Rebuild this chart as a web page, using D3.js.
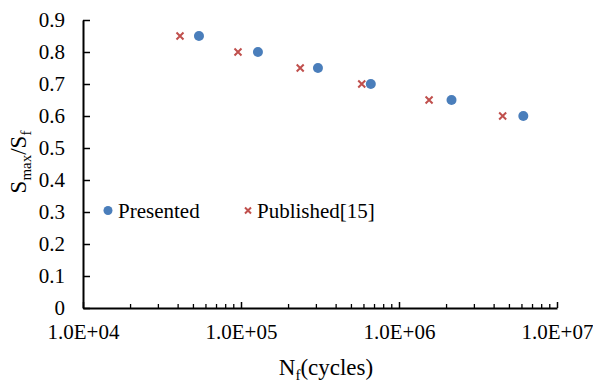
<!DOCTYPE html>
<html>
<head>
<meta charset="utf-8">
<script src="https://cdn.jsdelivr.net/npm/d3@7"></script>
<style>
	body { margin: 0; background: #fff; }
	text { font-family: 'Liberation Serif', 'Times New Roman', serif; fill: #000; }
</style>
</head>
<body>
<svg width="593" height="383"></svg>
<script>
// values
let presentedN = [54200, 128000, 307000, 663000, 2150000, 6120000]
let presentedS = [0.85, 0.8, 0.75, 0.7, 0.65, 0.6]
let publishedN = [41100, 95700, 237000, 581000, 1550000, 4530000]
let publishedS = [0.85, 0.8, 0.75, 0.7, 0.65, 0.6]
let yTicks = [0, 0.1, 0.2, 0.3, 0.4, 0.5, 0.6, 0.7, 0.8, 0.9]
let xTicks = [1e4, 1e5, 1e6, 1e7]

let presented = presentedN.map((n, i) => ({ n: n, s: presentedS[i] }))
let published = publishedN.map((n, i) => ({ n: n, s: publishedS[i] }))

let svg = d3.select('svg')

let xScale = d3.scaleLog()
	.domain([1e4, 1e7])
	.range([83, 557])

let yScale = d3.scaleLinear()
	.domain([0, 0.9])
	.range([308, 20])

// minor ticks on the log axis
let minor = []
for (let d = 1e4; d < 1e7; d *= 10) {
	for (let k = 2; k <= 9; k++) minor.push(d * k)
}

let bottomAxisG = svg.append('g')
	.attr('transform', 'translate(0, 308)')
bottomAxisG.selectAll('line.minor')
	.data(minor)
	.enter()
	.append('line')
	.attr('x1', d => xScale(d))
	.attr('x2', d => xScale(d))
	.attr('y1', 0)
	.attr('y2', -4)
	.attr('stroke', '#000')
	.attr('stroke-width', 1.3)
let bottomAxis = d3.axisBottom(xScale)
	.tickValues(xTicks)
	.tickSizeInner(-6)
	.tickSizeOuter(0)
	.tickPadding(16)
	.tickFormat(d => d.toExponential(1).toUpperCase().replace(/E\+(\d)$/, 'E+0$1'))
bottomAxisG.call(bottomAxis)

let leftAxisG = svg.append('g')
	.attr('transform', 'translate(83, 0)')
let leftAxis = d3.axisLeft(yScale)
	.tickValues(yTicks)
	.tickSizeInner(-7)
	.tickSizeOuter(0)
	.tickPadding(18)
	.tickFormat(d => d === 0 ? '0' : d3.format('.1f')(d))
leftAxisG.call(leftAxis)

svg.selectAll('.domain').attr('stroke', '#000').attr('stroke-width', 2)
svg.selectAll('.tick line').attr('stroke', '#000').attr('stroke-width', 1.5)
svg.selectAll('.tick text')
	.style('font-family', "'Liberation Serif', serif")
	.style('font-size', '21px')
	.attr('fill', '#000')

// published markers (x)
function cross(g, size) {
	g.append('path')
		.attr('d', `M${-size},${-size}L${size},${size}M${-size},${size}L${size},${-size}`)
		.attr('stroke', '#c0504d')
		.attr('stroke-width', 2)
		.attr('fill', 'none')
}

svg.append('g')
	.selectAll('g')
	.data(published)
	.enter()
	.append('g')
	.attr('transform', d => `translate(${xScale(d.n)}, ${yScale(d.s)})`)
	.each(function () { cross(d3.select(this), 3.5) })

svg.append('g')
	.selectAll('circle')
	.data(presented)
	.enter()
	.append('circle')
	.attr('cx', d => xScale(d.n))
	.attr('cy', d => yScale(d.s))
	.attr('r', 5)
	.attr('fill', '#4a7ebb')

// legend
let legend = svg.append('g')
legend.append('circle')
	.attr('cx', 108)
	.attr('cy', 210.5)
	.attr('r', 4.5)
	.attr('fill', '#4a7ebb')
legend.append('text')
	.attr('x', 118)
	.attr('y', 218)
	.style('font-size', '21px')
	.text('Presented')
cross(legend.append('g').attr('transform', 'translate(248, 210.5)'), 3)
legend.append('text')
	.attr('x', 257)
	.attr('y', 218)
	.style('font-size', '21px')
	.text('Published[15]')

// axis titles
let xTitle = svg.append('text')
	.attr('x', 326)
	.attr('y', 375)
	.attr('text-anchor', 'middle')
	.style('font-size', '23px')
xTitle.append('tspan').text('N')
xTitle.append('tspan').attr('dy', 5).style('font-size', '15px').text('f')
xTitle.append('tspan').attr('dy', -5).text('(cycles)')

let yTitle = svg.append('text')
	.attr('transform', 'translate(26, 162) rotate(-90)')
	.attr('text-anchor', 'middle')
	.style('font-size', '23px')
yTitle.append('tspan').text('S')
yTitle.append('tspan').attr('dy', 5).style('font-size', '15px').text('max')
yTitle.append('tspan').attr('dy', -5).text('/S')
yTitle.append('tspan').attr('dy', 5).style('font-size', '15px').text('f')
</script>
</body>
</html>
